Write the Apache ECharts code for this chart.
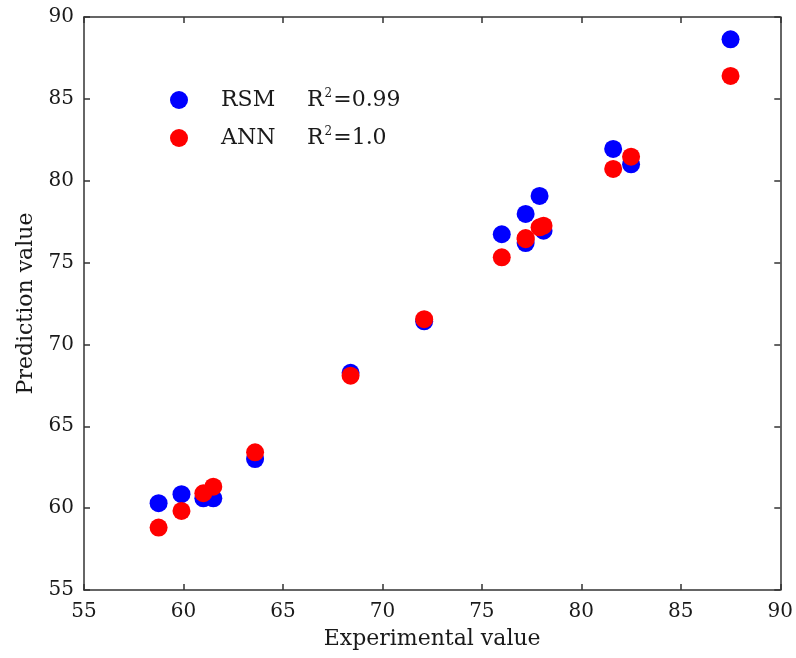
<!DOCTYPE html>
<html>
<head>
<meta charset="utf-8">
<script src="https://cdn.jsdelivr.net/npm/echarts@6/dist/echarts.min.js"></script>
<style>
  html, body { margin: 0; padding: 0; background: #fff; }
  #chart { width: 796px; height: 658px; }
</style>
</head>
<body>
<div id="chart"></div>
<script>
// Experimental values and the two models' predictions
const experimental = [58.75, 59.9, 61.0, 61.5, 63.6, 68.4, 72.1, 76.0, 77.2, 77.2, 77.9, 78.1, 81.6, 82.5, 87.5];
const rsmPred = [60.3, 60.85, 60.6, 60.6, 63.0, 68.27, 71.41, 76.73, 77.97, 76.19, 79.07, 76.95, 81.94, 81.0, 88.64];
const annPred = [58.81, 59.83, 60.91, 61.31, 63.41, 68.09, 71.54, 75.32, 76.43, 76.5, 77.15, 77.25, 80.72, 81.47, 86.4];
const seriesNames = ['RSM', 'ANN'];
const r2Labels = ['0.99', '1.0'];
const axisMin = 55, axisMax = 90, axisStep = 5;

const FONT = 'DejaVu Serif';
const TXT = '#1a1a1a';
const LINE = '#333';

const pairs = (xs, ys) => xs.map((x, i) => [x, ys[i]]);

const baseAxis = {
  type: 'value', min: axisMin, max: axisMax, interval: axisStep,
  axisLine: { show: true, lineStyle: { color: LINE, width: 1.5 } },
  axisTick: { show: true, inside: true, length: 6, lineStyle: { color: LINE, width: 1.5 } },
  splitLine: { show: false },
  axisLabel: { color: TXT, fontFamily: FONT, fontSize: 20 },
  nameTextStyle: { color: TXT, fontFamily: FONT, fontSize: 22 }
};
const mirrorAxis = (pos) => Object.assign({}, baseAxis, {
  position: pos, axisLabel: { show: false }
});

const chart = echarts.init(document.getElementById('chart'), null, { renderer: 'canvas' });
chart.setOption({
  animation: false,
  backgroundColor: '#fff',
  grid: { left: 84, right: 11, top: 17, bottom: 68, containLabel: false },
  xAxis: [
    Object.assign({}, baseAxis, {
      position: 'bottom',
      name: 'Experimental value', nameLocation: 'middle', nameGap: 38,
      axisLabel: Object.assign({}, baseAxis.axisLabel, { margin: 12 })
    }),
    mirrorAxis('top')
  ],
  yAxis: [
    Object.assign({}, baseAxis, {
      position: 'left',
      name: 'Prediction value', nameLocation: 'middle', nameGap: 46,
      axisLabel: Object.assign({}, baseAxis.axisLabel, { margin: 10 })
    }),
    mirrorAxis('right')
  ],
  legend: {
    orient: 'vertical', left: 170, top: 88, padding: 0,
    itemWidth: 18, itemHeight: 18, itemGap: 15,
    icon: 'circle',
    data: seriesNames,
    formatter: (name) => {
      const i = seriesNames.indexOf(name);
      return '{sp| }{n|' + name + '}{r|R}{s|2}{r|=' + r2Labels[i] + '}';
    },
    textStyle: {
      color: TXT, fontFamily: FONT, fontSize: 22,
      rich: {
        sp: { width: 28, fontSize: 22, lineHeight: 24 },
        n: { width: 86, fontFamily: FONT, fontSize: 22, color: TXT, lineHeight: 24 },
        r: { fontFamily: FONT, fontSize: 22, color: TXT, lineHeight: 24 },
        s: { fontFamily: FONT, fontSize: 12, color: TXT, lineHeight: 12, verticalAlign: 'top', padding: [0, 1, 0, 1] }
      }
    }
  },
  series: [
    {
      name: 'RSM', type: 'scatter', symbol: 'circle', symbolSize: 18,
      itemStyle: { color: '#0000ff', opacity: 1 },
      data: pairs(experimental, rsmPred), z: 2
    },
    {
      name: 'ANN', type: 'scatter', symbol: 'circle', symbolSize: 18,
      itemStyle: { color: '#ff0000', opacity: 1 },
      data: pairs(experimental, annPred), z: 3
    }
  ]
});
</script>
</body>
</html>
